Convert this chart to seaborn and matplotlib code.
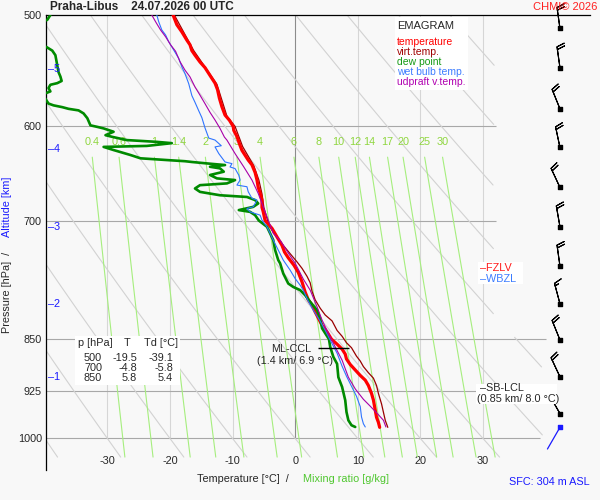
import numpy as np
import matplotlib
matplotlib.use("Agg")
import matplotlib.pyplot as plt
import seaborn as sns
from matplotlib.patches import Rectangle
from matplotlib.ticker import FixedLocator, NullLocator

# sounding Praha-Libus 24.07.2026 00 UTC
temp_p = [500, 508, 514, 521, 525, 530, 534, 540, 545, 552, 559, 565, 573, 581, 589, 594,
          600, 604, 610, 619, 624, 629, 634, 639, 647, 655, 663, 669, 677, 685, 690, 700,
          709, 719, 729, 737, 744, 753, 762, 774, 787, 797, 804, 813, 821, 831, 840, 850,
          857, 864, 871, 878, 886, 894, 902, 909, 917, 929, 939, 955, 966, 974, 982]
temp_t = [-19.5, -18.9, -18.1, -17.3, -16.8, -16.5, -16.0, -15.2, -14.4, -13.6, -12.8, -12.4,
          -12.1, -11.7, -11.2, -10.5, -9.9, -9.8, -9.3, -8.8, -8.5, -8.0, -7.5, -6.9, -6.4,
          -6.1, -5.9, -5.6, -5.3, -5.3, -5.1, -4.8, -3.7, -2.9, -2.1, -1.7, -1.1, -0.2, 0.5,
          1.1, 1.6, 2.1, 2.7, 3.2, 3.7, 4.3, 5.1, 5.8, 6.7, 7.5, 8.0, 8.2, 8.8, 9.6, 10.4,
          11.2, 11.7, 12.2, 12.5, 12.8, 13.0, 13.3, 13.5]

virt_p = [500, 530, 560, 590, 600, 620, 640, 655, 670, 685, 700, 711, 719, 729, 739, 749,
          757, 767, 775, 786, 797, 808, 817, 825, 838, 846, 855, 862, 874, 881, 889, 898,
          906, 917, 929, 945, 958, 971, 982]
virt_t = [-19.3, -16.2, -12.5, -10.9, -9.6, -8.4, -6.6, -5.8, -5.3, -5.0, -4.4, -3.7, -2.9,
          -1.9, -0.8, 0.3, 1.1, 1.9, 2.4, 2.7, 3.2, 4.0, 4.8, 5.9, 6.7, 7.5, 8.2, 9.0, 9.8,
          10.4, 10.9, 11.7, 12.5, 13.0, 13.3, 13.8, 14.1, 14.4, 14.8]

dew_p = [500, 504, 510, 520, 527, 530, 534, 543, 549, 553, 557, 559, 560.5, 563.5, 566.6,
         568, 570, 573.4, 578, 579.7, 581.4, 583, 584.5, 587.4, 592, 599, 600.5, 602, 605.3,
         608.7, 610.4, 613.6, 615.4, 616.7, 619.5, 620.5, 623.7, 628.8, 632.2, 634, 635.2,
         636, 637.5, 639.2, 641, 642.7, 646.2, 649.7, 653.3, 655.1, 658.7, 660.6, 664.2,
         667.9, 671.6, 673.5, 676.9, 680.7, 684.5, 688.1, 690.1, 693.8, 700, 707.2, 714.8,
         722.7, 734.7, 746.8, 750.8, 763.4, 776, 780.4, 784.4, 791, 799.6, 810.6, 821.6,
         835, 841.8, 850, 860.8, 875, 885.1, 904.6, 919.2, 939.4, 957.6, 970.7, 978.6, 981.4]
dew_t = [-39.1, -39.6, -43.0, -43.0, -39.7, -38.8, -38.3, -38.0, -37.8, -37.5, -37.3, -38.0,
         -39.1, -39.4, -39.1, -39.7, -41.5, -39.9, -39.4, -38.6, -37.2, -36.2, -34.6, -33.8,
         -33.2, -32.7, -31.6, -30.6, -29.0, -30.3, -29.2, -26.9, -22.1, -19.7, -23.7, -30.6,
         -29.0, -26.3, -24.7, -20.5, -17.6, -16.5, -14.1, -11.2, -13.6, -12.0, -11.4, -13.6,
         -12.5, -9.6, -10.9, -15.2, -16.0, -15.2, -12.0, -7.7, -6.4, -5.9, -6.7, -9.0, -7.2,
         -6.4, -5.8, -4.5, -4.0, -3.5, -3.2, -2.7, -2.4, -1.9, -1.1, -0.3, 0.8, 1.6, 2.4,
         3.5, 4.0, 4.3, 4.8, 5.4, 5.6, 6.1, 6.7, 6.9, 7.5, 8.0, 8.2, 8.5, 9.0, 9.6]

wb_p = [500, 505.5, 512.4, 516.6, 522.3, 529.5, 536.8, 544.3, 550.3, 559.5, 570.5, 576.8,
        584.9, 591.5, 601.5, 611.6, 613.6, 619.3, 620.5, 627.3, 636, 637.7, 641.2, 642.9,
        649.9, 655.1, 660.5, 662.3, 667.7, 675, 676.9, 684.5, 686.3, 690.1, 692, 693.8,
        699.5, 707.2, 714.8, 722.7, 734.7, 746.8, 759.2, 769.7, 778.1, 784.4, 797.4, 810.6,
        823.9, 837.6, 851.4, 869.8, 888.5, 903.1, 918.1, 933.3, 949.2, 965.4, 976.2, 981.4]
wb_t = [-22.1, -21.8, -21.3, -20.7, -20.2, -19.4, -18.6, -18.1, -17.6, -17.0, -16.5, -16.0,
        -15.4, -14.9, -14.4, -13.8, -12.8, -11.8, -12.8, -12.2, -11.2, -10.1, -10.4, -9.6,
        -9.0, -8.8, -9.3, -7.7, -7.5, -6.9, -6.1, -6.7, -7.7, -7.2, -6.4, -5.6, -5.3, -4.5,
        -4.0, -3.5, -2.7, -1.9, -0.8, 0.0, 0.8, 1.3, 2.0, 2.9, 3.9, 4.8, 5.6, 6.7, 7.5, 8.2,
        9.0, 9.8, 10.4, 10.6, 10.9, 11.2]

updraft_p = [500, 505.5, 512.4, 518.1, 525, 530.6, 539.6, 547.2, 553.3, 562.5, 570.1, 578.1,
             586.4, 593.8, 602, 610.6, 613.6, 627.3, 641.2, 655.1, 669.6, 684.5, 699.5, 714.8,
             723.9, 737.1, 750.6, 770.4, 784.4, 806.2, 823.9, 841.8, 860.8, 879.8, 904.6,
             922.1, 937.9, 948.6, 961.9, 970.7, 981.4]
updraft_t = [-22.9, -22.3, -21.5, -20.7, -19.9, -19.1, -18.4, -17.6, -16.8, -16.0, -15.2,
             -14.4, -13.6, -12.8, -12.0, -11.3, -10.9, -9.6, -8.2, -6.9, -5.9, -5.1, -4.3,
             -3.5, -2.3, -1.2, 0.0, 1.3, 2.4, 3.5, 4.3, 5.3, 6.4, 7.5, 8.5, 9.6, 10.9, 12.0,
             13.3, 14.1, 14.5]

# wind barbs (direction in deg, speed in kt)
wind_p = [511, 545, 583, 621, 663, 707, 754, 802, 851, 904, 960]
wind_dir = [352, 352, 338, 348, 335, 350, 352, 345, 338, 335, 330]
wind_spd = [20, 20, 20, 20, 20, 20, 20, 15, 20, 20, 10]
sfc_p, sfc_dir = 982, 210

# altitude marks [km] on the pressure axis
alt_km = [1, 2, 3, 4, 5]
alt_p = [905, 803, 707, 623, 546]

mix_ratios = [0.4, 0.6, 1, 1.4, 2, 3, 4, 6, 8, 10, 12, 14, 17, 20, 25, 30]
mix_labels = ["0.4", "0.6", "1", "1.4", "2", "3", "4", "6", "8", "10", "12", "14", "17",
              "20", "25", "30"]
theta_1000 = list(range(-40, 100, 10))
p_ticks = [500, 600, 700, 850, 925, 1000]
t_ticks = [-30, -20, -10, 0, 10, 20, 30]

table_rows = [("500", "-19.5", "-39.1"), ("700", "-4.8", "-5.8"), ("850", "5.8", "5.4")]
ccl_p, ccl_t0, ccl_t1 = 862, 3.7, 8.6

BG = "#f8f8f8"
sns.set_style("white")
plt.rcParams["font.family"] = ["Liberation Sans", "DejaVu Sans"]
plt.rcParams["axes.unicode_minus"] = False
plt.rcParams["font.size"] = 7.8

fig = plt.figure(figsize=(6, 5), dpi=100, facecolor=BG)
ax = fig.add_axes([46 / 600, 30 / 500, 544 / 600, 455 / 500])
ax.set_facecolor(BG)
ax.set_yscale("log")
ax.set_xlim(-39.8, 47.1)
ax.set_ylim(1053, 500)


def fx(x):
    return x / 600


def fy(y):
    return 1 - y / 500


# background: isotherms, isobars, dry adiabats, mixing ratio lines
ax.vlines([t for t in t_ticks if t != 0], 500, 1000, colors="#d6d6d6", lw=0.8, zorder=1)
ax.vlines([0], 500, 1000, colors="#8c8c8c", lw=0.8, zorder=1)
ax.hlines([600, 700], -39.8, 32.1, colors="#a8a8a8", lw=0.8, zorder=1)
ax.hlines([850, 925], -39.8, 40.0, colors="#a8a8a8", lw=0.8, zorder=1)
ax.hlines([1000], -39.8, 39.1, colors="#a8a8a8", lw=0.8, zorder=1)

p_ad = np.geomspace(500, 1031, 300)
limit = np.where(p_ad < 846, 31.8, 39.5)
for th in theta_1000:
    t_ad = (th + 273.15) * (p_ad / 1000) ** 0.286 - 273.15
    t_ad = np.where(t_ad <= limit, t_ad, np.nan)
    ax.plot(t_ad, p_ad, color="#d2d2d2", lw=0.8, zorder=1)

p_mr = np.geomspace(631, 1031, 40)
for w, lab in zip(mix_ratios, mix_labels):
    e = w * p_mr / (622 + w)
    le = np.log(e / 6.112)
    td = 243.5 * le / (17.67 - le)
    ax.plot(td, p_mr, color="#a6ee7e", lw=0.8, zorder=1.2)
    ax.text(td[0], 616, lab, color="#8fd63f", ha="center", va="center", fontsize=7.8)

# sounding curves
sns.lineplot(x=virt_t, y=virt_p, sort=False, estimator=None, color="#990000", lw=0.9, ax=ax, zorder=3)
sns.lineplot(x=temp_t, y=temp_p, sort=False, estimator=None, color="#ff0000", lw=2.3, ax=ax, zorder=3.1)
sns.lineplot(x=dew_t, y=dew_p, sort=False, estimator=None, color="#008a00", lw=1.9, ax=ax, zorder=3.2)
sns.lineplot(x=wb_t, y=wb_p, sort=False, estimator=None, color="#2f74ff", lw=0.8, ax=ax, zorder=3.3)
sns.lineplot(x=updraft_t, y=updraft_p, sort=False, estimator=None, color="#a800a8", lw=0.8, ax=ax, zorder=3.4)

# ML-CCL marker
ax.hlines([ccl_p], ccl_t0, ccl_t1, colors="black", lw=1.0, zorder=4)

# wind barbs
barb_x = 42.3
wd = np.radians(wind_dir)
u = -np.array(wind_spd) * np.sin(wd)
v = -np.array(wind_spd) * np.cos(wd)
ax.barbs([barb_x] * len(wind_p), wind_p, u, v, length=5.5, lw=0.8, color="black",
         sizes=dict(height=0.36, spacing=0.13), zorder=5, clip_on=False)
ax.scatter([barb_x] * len(wind_p), wind_p, marker="s", s=5, color="black", zorder=6, clip_on=False)
sd = np.radians(sfc_dir)
ax.annotate("", xy=(barb_x, sfc_p), xytext=(18 * np.sin(sd), 18 * np.cos(sd)),
            textcoords="offset points", arrowprops=dict(arrowstyle="-", color="#1a1aff", lw=0.9,
                                                        shrinkA=0, shrinkB=0), zorder=5)
ax.scatter([barb_x], [sfc_p], marker="s", s=5, color="#1a1aff", zorder=6)

# axes style
for side in ["right", "bottom"]:
    ax.spines[side].set_visible(False)
for side in ["left", "top"]:
    ax.spines[side].set_color("black")
    ax.spines[side].set_linewidth(0.9)
ax.yaxis.set_major_locator(FixedLocator(p_ticks))
ax.yaxis.set_minor_locator(NullLocator())
ax.set_yticklabels([str(p) for p in p_ticks])
ax.set_xticks(t_ticks)
ax.set_xticklabels([str(t) for t in t_ticks])
ax.tick_params(axis="y", length=0, pad=3, labelsize=7.8)
ax.tick_params(axis="x", length=0, pad=-10, labelsize=7.8)
ax.set_xlabel("")
ax.set_ylabel("")

# altitude marks
ytr = ax.get_yaxis_transform()
for km, p in zip(alt_km, alt_p):
    ax.text(0.003, p, "\u2013" + str(km), transform=ytr, color="#1a1aff", va="center",
            ha="left", fontsize=7.8, zorder=6)


def white_box(x0, y0, x1, y1):
    fig.add_artist(Rectangle((fx(x0), fy(y1)), (x1 - x0) / 600, (y1 - y0) / 500,
                             transform=fig.transFigure, facecolor="white", edgecolor="none",
                             zorder=2.5))


# legend box
white_box(395, 17, 468, 90)
fig.text(fx(397), fy(26), "EMAGRAM", fontsize=8, va="center", zorder=3)
legend_items = [("temperature", "#ff0000"), ("virt.temp.", "#a00000"), ("dew point", "#149a14"),
                ("wet bulb temp.", "#3c7cff"), ("udpraft v.temp.", "#b000b0")]
for i, (lab, col) in enumerate(legend_items):
    fig.text(fx(397), fy(42 + 10 * i), lab, color=col, fontsize=7.5, va="center", zorder=3)

# table of values
white_box(75, 336, 180, 385)
fig.text(fx(78), fy(343), "p [hPa]", va="center", zorder=3)
fig.text(fx(127), fy(343), "T", va="center", ha="center", zorder=3)
fig.text(fx(144), fy(343), "Td [\u00b0C]", va="center", zorder=3)
for i, (pv, tv, tdv) in enumerate(table_rows):
    yy = fy(358 + 10 * i)
    fig.text(fx(102), yy, pv, ha="right", va="center", zorder=3)
    fig.text(fx(137), yy, tv, ha="right", va="center", zorder=3)
    fig.text(fx(173), yy, tdv, ha="right", va="center", zorder=3)

# level annotations
fig.text(fx(291), fy(349), "ML-CCL", ha="center", va="center", zorder=3)
fig.text(fx(295), fy(361), "(1.4 km/ 6.9 \u00b0C)", ha="center", va="center", zorder=3)
white_box(476, 384, 557, 404)
fig.text(fx(480), fy(388), "\u2013SB-LCL", va="center", zorder=3)
fig.text(fx(477), fy(399), "(0.85 km/ 8.0 \u00b0C)", va="center", zorder=3)
white_box(478, 262, 523, 284)
fig.text(fx(480), fy(268), "\u2013FZLV", color="#ff1a1a", va="center", zorder=3)
fig.text(fx(480), fy(279), "\u2013WBZL", color="#3c7cff", va="center", zorder=3)

# titles and axis labels
fig.text(fx(50), fy(7), "Praha-Libus    24.07.2026 00 UTC", fontweight="bold", fontsize=8.5,
         va="center")
fig.text(fx(597), fy(7), "CHMI\u00a9 2026", color="#ff2020", ha="right", va="center", fontsize=8)
fig.text(fx(590), fy(482), "SFC: 304 m ASL", color="#1a1aff", ha="right", va="center")
fig.text(fx(197), fy(479), "Temperature [\u00b0C]  /", va="center")
fig.text(fx(303), fy(479), "Mixing ratio [g/kg]", color="#4fc72f", va="center")
fig.text(fx(7), fy(333), "Pressure [hPa]  /", rotation=90, ha="center", va="bottom")
fig.text(fx(7), fy(237), "Altitude [km]", rotation=90, ha="center", va="bottom", color="#1a1aff")

fig.savefig("out.png", dpi=100, facecolor=BG)
